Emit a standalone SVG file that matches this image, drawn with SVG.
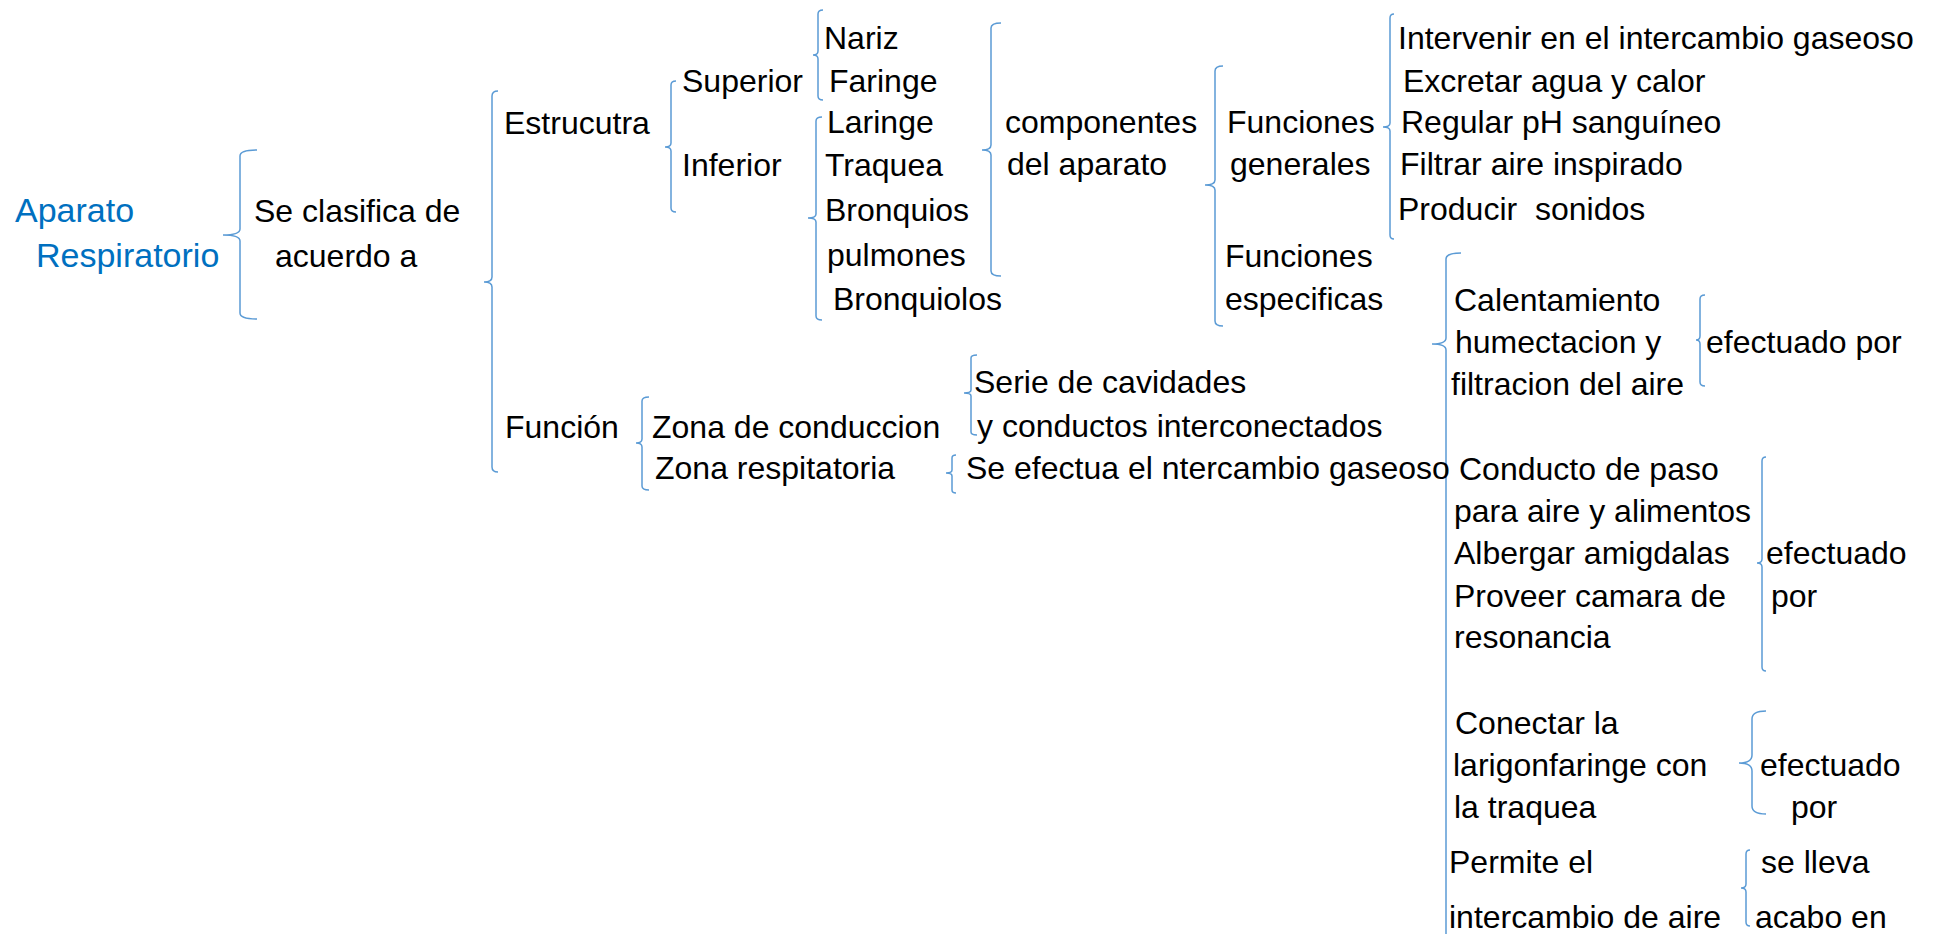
<svg xmlns="http://www.w3.org/2000/svg" width="1934" height="934" viewBox="0 0 1934 934">
<style>
.t{font-family:"Liberation Sans",Arial,sans-serif;font-size:32px;fill:#000}
.b{font-size:34px;fill:#0070C0}
.br{fill:none;stroke:#5B9BD5;stroke-width:1.5}
</style>
<rect width="1934" height="934" fill="#fff"/>
<g id="connectors">
<path class="br" d="M257,150 Q240,150 240,156 V229 Q240,235 223,235 Q240,235 240,241 V313 Q240,319 257,319"/>
<path class="br" d="M498,91 Q492,91 492,96 V277 Q492,282 484,282 Q492,282 492,287 V467 Q492,472 498,472"/>
<path class="br" d="M676,81 Q671,81 671,85 V143 Q671,147 665,147 Q671,147 671,151 V208 Q671,212 676,212"/>
<path class="br" d="M823,10 Q818,10 818,14 V51 Q818,55 813,55 Q818,55 818,59 V96 Q818,100 823,100"/>
<path class="br" d="M822,117 Q816,117 816,121 V214 Q816,218 808,218 Q816,218 816,222 V316 Q816,320 822,320"/>
<path class="br" d="M1001,23 Q991,23 991,28 V145 Q991,150 982,150 Q991,150 991,155 V271 Q991,276 1001,276"/>
<path class="br" d="M1223,66 Q1215,66 1215,71 V180 Q1215,185 1205,185 Q1215,185 1215,190 V321 Q1215,326 1223,326"/>
<path class="br" d="M1394,14 Q1390,14 1390,18 V123 Q1390,127 1383,127 Q1390,127 1390,131 V235 Q1390,239 1394,239"/>
<path class="br" d="M1461,253 Q1446,253 1446,259 V338 Q1446,344 1432,344 Q1446,344 1446,350 V940"/>
<path class="br" d="M1705,295 Q1700,295 1700,299 V336 Q1700,340 1696,340 Q1700,340 1700,344 V382 Q1700,386 1705,386"/>
<path class="br" d="M1766,457 Q1762,457 1762,461 V559 Q1762,563 1757,563 Q1762,563 1762,567 V667 Q1762,671 1766,671"/>
<path class="br" d="M1766,711 Q1752,711 1752,719 V755 Q1752,763 1739,763 Q1752,763 1752,771 V806 Q1752,814 1766,814"/>
<path class="br" d="M1750,850 Q1746,850 1746,854 V884 Q1746,888 1741,888 Q1746,888 1746,892 V922 Q1746,926 1750,926"/>
<path class="br" d="M649,397 Q642,397 642,401 V439 Q642,443 636,443 Q642,443 642,447 V486 Q642,490 649,490"/>
<path class="br" d="M977,355 Q971,355 971,358 V390 Q971,393 964,393 Q971,393 971,396 V432 Q971,435 977,435"/>
<path class="br" d="M956,455 Q952,455 952,458 V470 Q952,473 946,473 Q952,473 952,476 V490 Q952,493 956,493"/>
</g>
<g id="aparato"><text class="t b" x="15" y="222">Aparato</text><text class="t b" x="36" y="267">Respiratorio</text></g>
<g id="clasifica"><text class="t" x="254" y="222">Se clasifica de</text><text class="t" x="275" y="267">acuerdo a</text></g>
<g id="estructura"><text class="t" x="504" y="134">Estrucutra</text></g>
<g id="superior"><text class="t" x="682" y="92">Superior</text></g>
<g id="inferior"><text class="t" x="682" y="176">Inferior</text></g>
<g id="sup-list"><text class="t" x="824" y="49">Nariz</text><text class="t" x="829" y="92">Faringe</text></g>
<g id="inf-list"><text class="t" x="827" y="133">Laringe</text><text class="t" x="825" y="176">Traquea</text><text class="t" x="825" y="221">Bronquios</text><text class="t" x="827" y="266">pulmones</text><text class="t" x="833" y="310">Bronquiolos</text></g>
<g id="componentes"><text class="t" x="1005" y="133">componentes</text><text class="t" x="1007" y="175">del aparato</text></g>
<g id="func-generales"><text class="t" x="1227" y="133">Funciones</text><text class="t" x="1230" y="175">generales</text></g>
<g id="func-especificas"><text class="t" x="1225" y="267">Funciones</text><text class="t" x="1225" y="310">especificas</text></g>
<g id="generales-list"><text class="t" x="1398" y="49">Intervenir en el intercambio gaseoso</text><text class="t" x="1403" y="92">Excretar agua y calor</text><text class="t" x="1401" y="133">Regular pH sanguíneo</text><text class="t" x="1400" y="175">Filtrar aire inspirado</text><text class="t" x="1398" y="220" xml:space="preserve">Producir  sonidos</text></g>
<g id="calentamiento"><text class="t" x="1454" y="311">Calentamiento</text><text class="t" x="1455" y="353">humectacion y</text><text class="t" x="1451" y="395">filtracion del aire</text></g>
<g id="efectuado1"><text class="t" x="1706" y="353">efectuado por</text></g>
<g id="conducto"><text class="t" x="1459" y="480">Conducto de paso</text><text class="t" x="1454" y="522">para aire y alimentos</text><text class="t" x="1454" y="564">Albergar amigdalas</text><text class="t" x="1454" y="607">Proveer camara de</text><text class="t" x="1454" y="648">resonancia</text></g>
<g id="efectuado2"><text class="t" x="1766" y="564">efectuado</text><text class="t" x="1771" y="607">por</text></g>
<g id="conectar"><text class="t" x="1455" y="734">Conectar la</text><text class="t" x="1453" y="776">larigonfaringe con</text><text class="t" x="1454" y="818">la traquea</text></g>
<g id="efectuado3"><text class="t" x="1760" y="776">efectuado</text><text class="t" x="1791" y="818">por</text></g>
<g id="permite"><text class="t" x="1449" y="873">Permite el</text><text class="t" x="1449" y="928">intercambio de aire</text></g>
<g id="sellevа"><text class="t" x="1761" y="873">se lleva</text><text class="t" x="1755" y="928">acabo en</text></g>
<g id="funcion"><text class="t" x="505" y="438">Función</text></g>
<g id="zona-conduccion"><text class="t" x="652" y="438">Zona de conduccion</text></g>
<g id="zona-respiratoria"><text class="t" x="655" y="479">Zona respitatoria</text></g>
<g id="serie"><text class="t" x="974" y="393">Serie de cavidades</text><text class="t" x="977" y="437">y conductos interconectados</text></g>
<g id="efectua"><text class="t" x="966" y="479">Se efectua el ntercambio gaseoso</text></g>
</svg>
